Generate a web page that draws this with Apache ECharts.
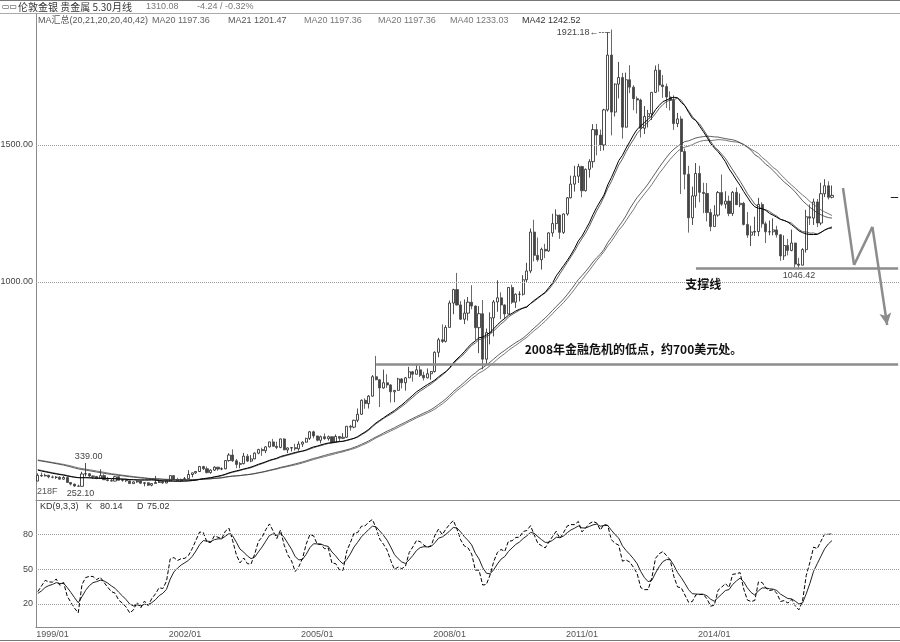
<!DOCTYPE html>
<html><head><meta charset="utf-8">
<script src="https://cdn.jsdelivr.net/npm/echarts@6/dist/echarts.min.js"></script>
<style>html,body{margin:0;padding:0;background:#fff}#c{width:900px;height:642px}</style>
</head><body><div id="c"></div>
<script>
// ---------- categories (monthly, 1998/09 .. 2018/03) ----------
const startYear = 1998, startMonth = 9, totalMonths = 235;
const categories = [];
for (let i = 0; i < totalMonths; i++) {
  const m = startMonth - 1 + i, y = startYear + Math.floor(m / 12), mm = m % 12 + 1;
  categories.push(y + '/' + (mm < 10 ? '0' : '') + mm);
}
const tickLabels = ['1999/01', '2002/01', '2005/01', '2008/01', '2011/01', '2014/01'];

// ---------- monthly OHLC, 1998/09 .. 2016/09 ----------
const openP = [
  273,294,292,294,
  288,287,287,280,286,268,262,255,254,299,300,292,
  290,283,293,278,275,273,289,276,278,274,264,270,
  273,265,267,258,264,268,271,266,274,293,279,275,
  279,282,297,303,308,326,318,304,313,324,317,318,
  348,368,347,334,337,364,346,354,375,388,384,398,
  416,400,396,427,387,394,395,391,408,415,429,453,
  438,422,435,428,435,415,436,429,433,473,470,495,
  517,568,556,583,654,643,613,632,624,599,604,646,
  632,650,672,663,679,659,650,665,673,743,789,783,
  834,923,972,916,864,886,926,912,833,884,718,815,
  869,927,942,916,883,980,926,955,955,1008,1040,1182,
  1097,1081,1119,1113,1179,1213,1244,1181,1248,1307,1357,1386,
  1421,1333,1411,1439,1556,1536,1500,1628,1828,1620,1722,1746,
  1565,1738,1711,1669,1664,1561,1604,1614,1692,1773,1719,1713,
  1675,1663,1578,1595,1476,1393,1234,1314,1396,1327,1323,1253,
  1202,1244,1326,1284,1295,1250,1327,1282,1287,1210,1171,1182,
  1184,1283,1212,1183,1183,1190,1172,1095,1133,1115,1142,1065,
  1061,1118,1238,1233,1292,1215,1322,1351,1309
];
const closeP = [
  294,292,294,288,
  287,287,280,286,268,262,255,254,299,300,292,290,
  283,293,278,275,273,289,276,278,274,264,270,273,
  265,267,258,264,268,271,266,274,293,279,275,279,
  282,297,303,308,326,318,304,313,324,317,318,348,
  368,347,334,337,364,346,354,375,388,384,398,416,
  400,396,427,387,394,395,391,408,415,429,453,438,
  422,435,428,435,415,436,429,433,473,470,495,517,
  568,556,583,654,643,613,632,624,599,604,646,632,
  650,672,663,679,659,650,665,673,743,789,783,834,
  923,972,916,864,886,926,912,833,884,718,815,869,
  927,942,916,883,980,926,955,955,1008,1040,1182,1097,
  1081,1119,1113,1179,1213,1244,1181,1248,1307,1357,1386,1421,
  1333,1411,1439,1556,1536,1500,1628,1828,1620,1722,1746,1565,
  1738,1711,1669,1664,1561,1604,1614,1692,1773,1719,1713,1675,
  1663,1578,1595,1476,1393,1234,1314,1396,1327,1323,1253,1202,
  1244,1326,1284,1295,1250,1327,1282,1287,1210,1171,1182,1184,
  1283,1212,1183,1183,1190,1172,1095,1133,1115,1142,1065,1061,
  1118,1238,1233,1292,1215,1322,1351,1309,1316
];
const lowP = [
  273,288,290,283,
  283,281,278,278,267,257,252.1,252.5,253,290,287,281,
  280,281,277,272,271,272,275,271,269,263,263,267,
  263,254,255,254,264,266,264,265,271,277,273,271,
  277,280,287,299,306,313,301,300,310,311,313,316,
  344,343,320,320,334,343,342,353,371,365,375,396,
  399,390,393,386,375,381,384,384,398,414,423,429,
  418,411,424,421,414,414,418,428,431,457,466,488,
  515,537,538,582,641,543,610,613,560,561,603,611,
  603,649,636,662,653,640,648,643,669,725,777,779,
  834,882,914,861,846,859,900,786,740,681,700,772,
  801,891,864,865,883,920,905,929,950,998,1032,1075,
  1074,1045,1087,1110,1165,1191,1157,1175,1242,1305,1330,1361,
  1309,1330,1381,1417,1462,1478,1480,1622,1535,1604,1670,1523,
  1563,1689,1627,1615,1527,1540,1564,1591,1690,1694,1672,1635,
  1626,1555,1565,1321,1338,1180,1208,1271,1291,1251,1221,1185,
  1202,1238,1277,1268,1240,1241,1281,1273,1206,1161,1131,1168,
  1167,1198,1142,1170,1170,1162,1077,1080,1097,1112,1052,1046.42,
  1061,1107,1208,1208,1200,1207,1310,1301,1305
];
const highP = [
  301,304,300,296,
  293,291,291,291,290,268,264,260,307,339,302,293,
  292,316,298,288,281,292,291,281,278,275,272,275,
  273,269,268,265,292,279,272,280,294,294,285,282,
  288,313,304,310,328,329,326,316,327,324,323,350,
  375,389,354,342,376,372,368,378,391,395,400,417,
  427,417,428,429,396,396,409,418,418,431,456,457,
  438,439,447,439,435,443,436,448,474,478,497,538,
  571,575,587,660,730,645,680,663,627,605,650,649,
  653,690,675,698,693,672,684,675,747,796,845,842,
  932,975,1033,930,936,945,988,914,912,934,830,889,
  934,1006,962,918,981,990,958,966,1025,1070,1195,1227,
  1162,1125,1139,1181,1249,1265,1245,1250,1310,1388,1424,1431,
  1424,1414,1448,1576,1577,1556,1632,1912,1921.18,1725,1803,1763,
  1764,1791,1718,1677,1669,1642,1628,1693,1790,1796,1755,1724,
  1696,1681,1617,1605,1487,1424,1348,1434,1424,1362,1361,1267,
  1280,1332,1392,1331,1315,1332,1345,1323,1292,1255,1205,1238,
  1307,1291,1220,1224,1232,1205,1174,1170,1157,1191,1143,1088,
  1123,1263,1283,1304,1303,1362,1375,1367,1352
];
// months before the visible window (1995/03 .. 1998/08), needed by the averages / KD
const preClose = [
  392,389,385,387,383,383,383,383,387,387,
  405,400,396,392,391,382,385,387,379,379,371,369,
  345,358,349,340,345,334,326,325,332,311,296,290,
  303,297,301,310,293,296,288,273
];
const preHigh = [342,334,315,298,310,305,303,316,311,300,296,290]; // 1997/09 .. 1998/08
const preLow  = [318,309,294,283,278,291,289,300,291,287,287,272];

// ---------- annotations ----------
const gridLevels = [1000, 1500];
const kdLevels = [20, 50, 80];
const supportLevels = [{ from: '2013/08', value: 1050 }, { from: '2006/05', value: 700 }];
const forecastPath = [['2016/12', 1343], ['2017/03', 1062], ['2017/08', 1201], ['2017/12', 843]];
const lastPrice = 1310.08;

// ---------- indicators ----------
const allClose = preClose.concat(closeP);
function movingAverage(n) {
  const out = [];
  for (let j = 0; j < closeP.length; j++) {
    const end = preClose.length + j;
    let s = 0;
    for (let k = end - n + 1; k <= end; k++) s += allClose[k];
    out.push(+(s / n).toFixed(2));
  }
  return out;
}
const ma20 = movingAverage(20), ma21 = movingAverage(21), ma40 = movingAverage(40), ma42 = movingAverage(42);

const kdH = preHigh.concat(highP), kdL = preLow.concat(lowP);
const kdC = preClose.slice(-preHigh.length).concat(closeP);
const kLine = [], dLine = [];
(function () {
  let K = 50, D = 50;
  for (let t = 0; t < kdC.length; t++) {
    const s = Math.max(0, t - 8);
    let hh = -Infinity, ll = Infinity;
    for (let k = s; k <= t; k++) { hh = Math.max(hh, kdH[k]); ll = Math.min(ll, kdL[k]); }
    const rsv = hh === ll ? 50 : (kdC[t] - ll) / (hh - ll) * 100;
    K = (2 * K + rsv) / 3; D = (2 * D + K) / 3;
    if (t >= preHigh.length) { kLine.push(+K.toFixed(2)); dLine.push(+D.toFixed(2)); }
  }
})();

const candles = openP.map((o, i) => [o, closeP[i], lowP[i], highP[i]]);

// ---------- chart ----------
const NUMF = '"Liberation Sans","Noto Sans CJK SC",sans-serif';
const CJKF = '"Noto Sans CJK SC","Liberation Sans",sans-serif';
const AX = '#8a8a8a', GRIDC = '#9c9c9c';
const lastCat = categories[categories.length - 1];

function gridLine(v, txt) {
  return { yAxis: v, lineStyle: { type: 'dotted', color: GRIDC, width: 1 },
    label: { show: true, position: 'start', distance: 3, formatter: txt, color: '#444', fontSize: 9, fontFamily: NUMF } };
}

const mainMarkLines = gridLevels.map(v => gridLine(v, v.toFixed(2)));
supportLevels.forEach(s => {
  mainMarkLines.push([
    { coord: [s.from, s.value], lineStyle: { color: '#8c8c8c', width: 2.5, type: 'solid' }, label: { show: false } },
    { coord: [lastCat, s.value] }
  ]);
});
for (let i = 0; i < forecastPath.length - 1; i++) {
  const last = i === forecastPath.length - 2;
  mainMarkLines.push([
    { coord: forecastPath[i], symbol: 'none', lineStyle: { color: '#8c8c8c', width: 2.5, type: 'solid' }, label: { show: false } },
    { coord: forecastPath[i + 1], symbol: last ? 'arrow' : 'none', symbolSize: last ? [9, 12] : 0 }
  ]);
}
mainMarkLines.push([
  { coord: [categories[categories.length - 3], lastPrice], lineStyle: { color: '#222', width: 1, type: 'solid' }, label: { show: false } },
  { coord: [lastCat, lastPrice] }
]);

function note(coord, text, pos, opts) {
  return Object.assign({ coord: coord, value: text,
    label: Object.assign({ show: true, formatter: text, position: pos, distance: 2, color: '#444', fontSize: 9, fontFamily: NUMF }, opts || {}) });
}
const mainNotes = [
  note(['1999/10', 339], '339.00', 'top', { offset: [3, 0] }),
  note(['1999/07', 252.1], '252.10', 'bottom', { offset: [6, 0] }),
  note(['2011/09', 1921.18], '1921.18←----', 'left', { distance: 1, offset: [0, 3] }),
  note(['2015/12', 1046.42], '1046.42', 'bottom', { offset: [0, 0] }),
  note(['2013/10', 990], '支撑线', 'inside', { color: '#111', fontSize: 12, fontWeight: 'bold', fontFamily: CJKF }),
  note(['2012/03', 755], '2008年金融危机的低点，约700美元处。', 'inside', { color: '#111', fontSize: 12, fontWeight: 'bold', fontFamily: CJKF })
];

function txt(x, y, text, font, fill) {
  return { type: 'text', x: x, y: y, silent: true,
    style: { text: text, font: font, fill: fill || '#444', align: 'left', verticalAlign: 'middle' } };
}

const chart = echarts.init(document.getElementById('c'), null, { renderer: 'canvas' });
chart.setOption({
  animation: false,
  backgroundColor: '#ffffff',
  grid: [
    { left: 36, right: 0, top: 14, height: 486, outerBoundsMode: 'none' },
    { left: 36, right: 0, top: 500, height: 127, outerBoundsMode: 'none' }
  ],
  xAxis: [
    { type: 'category', gridIndex: 0, data: categories, boundaryGap: true,
      axisLine: { show: true, lineStyle: { color: AX } }, axisTick: { show: false }, axisLabel: { show: false }, splitLine: { show: false } },
    { type: 'category', gridIndex: 1, data: categories, boundaryGap: true,
      axisLine: { show: true, lineStyle: { color: AX } }, axisTick: { show: false }, splitLine: { show: false },
      axisLabel: { interval: (i, v) => tickLabels.indexOf(v) >= 0, color: '#555', fontSize: 9, fontFamily: NUMF, margin: 3 } }
  ],
  yAxis: [
    { type: 'value', gridIndex: 0, min: 204, max: 1978, axisLine: { show: true, lineStyle: { color: AX } },
      axisTick: { show: false }, axisLabel: { show: false }, splitLine: { show: false } },
    { type: 'value', gridIndex: 1, min: 0, max: 110, axisLine: { show: true, lineStyle: { color: AX } },
      axisTick: { show: false }, axisLabel: { show: false }, splitLine: { show: false } }
  ],
  series: [
    { type: 'candlestick', name: 'K线', xAxisIndex: 0, yAxisIndex: 0, data: candles, barWidth: 2.6, silent: true,
      itemStyle: { color: '#ffffff', color0: '#444444', borderColor: '#222222', borderColor0: '#444444', borderWidth: 0.8 },
      markLine: { silent: true, symbol: ['none', 'none'], animation: false, data: mainMarkLines },
      markPoint: { silent: true, symbol: 'circle', symbolSize: 0, itemStyle: { color: 'rgba(0,0,0,0)' }, data: mainNotes } },
    { type: 'line', name: 'MA42', xAxisIndex: 0, yAxisIndex: 0, data: ma42, symbol: 'none', silent: true, lineStyle: { color: '#555', width: 0.8 } },
    { type: 'line', name: 'MA40', xAxisIndex: 0, yAxisIndex: 0, data: ma40, symbol: 'none', silent: true, lineStyle: { color: '#333', width: 0.8 } },
    { type: 'line', name: 'MA21', xAxisIndex: 0, yAxisIndex: 0, data: ma21, symbol: 'none', silent: true, lineStyle: { color: '#333', width: 0.8 } },
    { type: 'line', name: 'MA20', xAxisIndex: 0, yAxisIndex: 0, data: ma20, symbol: 'none', silent: true, lineStyle: { color: '#000', width: 1 } },
    { type: 'line', name: 'D', xAxisIndex: 1, yAxisIndex: 1, data: dLine, symbol: 'none', silent: true, lineStyle: { color: '#222', width: 1 },
      markLine: { silent: true, symbol: ['none', 'none'], animation: false, data: kdLevels.map(v => gridLine(v, String(v))) } },
    { type: 'line', name: 'K', xAxisIndex: 1, yAxisIndex: 1, data: kLine, symbol: 'none', silent: true, lineStyle: { color: '#000', width: 1, type: [4, 2] } }
  ],
  graphic: [
    { type: 'line', silent: true, shape: { x1: 0, y1: 0.5, x2: 900, y2: 0.5 }, style: { stroke: '#777', lineWidth: 1 } },
    { type: 'line', silent: true, shape: { x1: 0, y1: 13.5, x2: 900, y2: 13.5 }, style: { stroke: '#aaa', lineWidth: 1 } },
    { type: 'line', silent: true, shape: { x1: 0, y1: 640.5, x2: 900, y2: 640.5 }, style: { stroke: '#777', lineWidth: 1 } },
    txt(2, 7, '▭▭', '8px "DejaVu Sans"', '#333'),
    txt(18, 7, '伦敦金银 贵金属 5.30月线', '10px ' + CJKF, '#333'),
    txt(146, 7, '1310.08', '9px ' + NUMF, '#777'),
    txt(197, 7, '-4.24 / -0.32%', '9px ' + NUMF, '#777'),
    txt(38, 21, 'MA汇总(20,21,20,20,40,42)', '9px ' + NUMF, '#555'),
    txt(152, 21, 'MA20 1197.36', '9px ' + NUMF, '#666'),
    txt(228, 21, 'MA21 1201.47', '9px ' + NUMF, '#555'),
    txt(304, 21, 'MA20 1197.36', '9px ' + NUMF, '#777'),
    txt(378, 21, 'MA20 1197.36', '9px ' + NUMF, '#777'),
    txt(450, 21, 'MA40 1233.03', '9px ' + NUMF, '#777'),
    txt(522, 21, 'MA42 1242.52', '9px ' + NUMF, '#333'),
    txt(37, 492, '218F', '9px ' + NUMF, '#555'),
    txt(40, 507, 'KD(9,3,3)', '9px ' + NUMF, '#333'),
    txt(86, 507, 'K', '9px ' + NUMF, '#333'),
    txt(100, 507, '80.14', '9px ' + NUMF, '#333'),
    txt(137, 507, 'D', '9px ' + NUMF, '#333'),
    txt(147, 507, '75.02', '9px ' + NUMF, '#333')
  ]
});
</script></body></html>
